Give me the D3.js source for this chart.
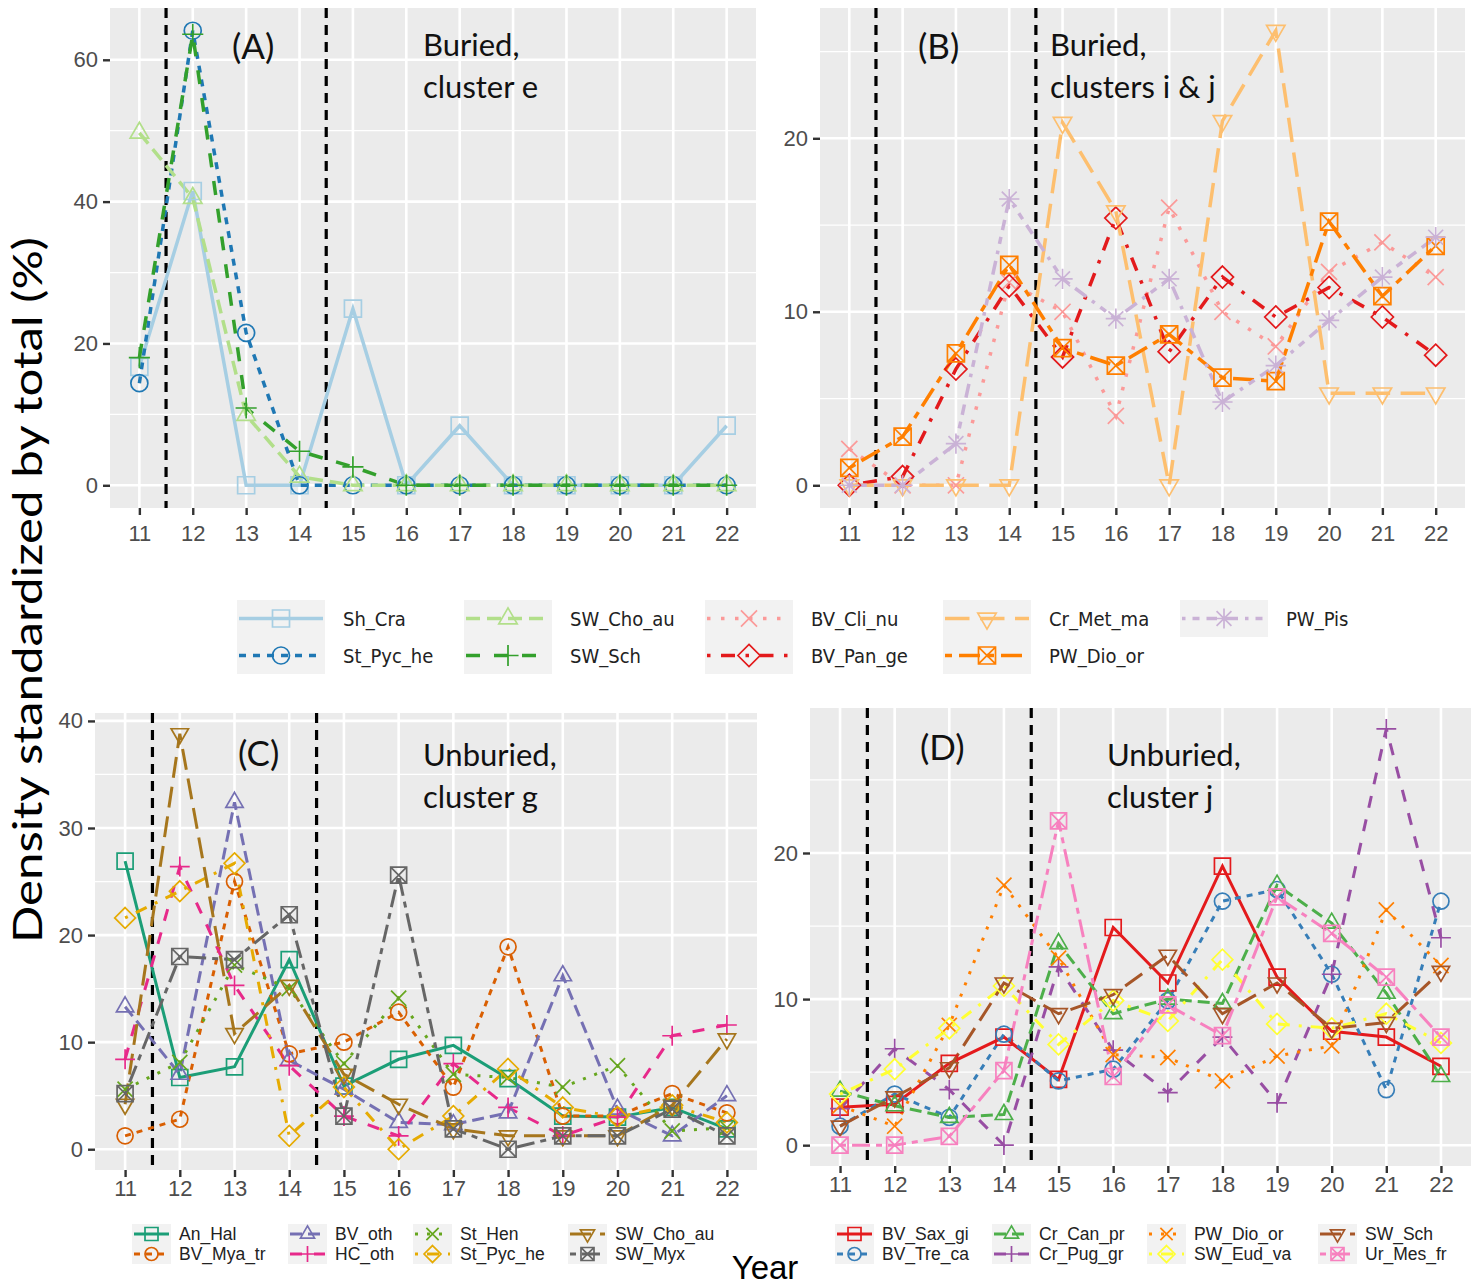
<!DOCTYPE html>
<html>
<head>
<meta charset="utf-8">
<script src="https://cdn.jsdelivr.net/npm/d3@7"></script>
<style>
  body { margin: 0; background: #fff; }
  svg { display: block; }
</style>
</head>
<body>
<svg id="chart" width="1476" height="1287"></svg>
<script>
// ---- data ----
const years = [11, 12, 13, 14, 15, 16, 17, 18, 19, 20, 21, 22];
const breakYears = [11.5, 14.5]; // dashed separators

// buried taxa, panels A and B share one legend
const namesTop = ["Sh_Cra", "St_Pyc_he", "SW_Cho_au", "SW_Sch", "BV_Cli_nu",
                  "BV_Pan_ge", "Cr_Met_ma", "PW_Dio_or", "PW_Pis"];
const valuesA = [
  [16.7, 41.5, 0, 0, 24.9, 0, 8.4, 0, 0, 0, 0, 8.4],      // Sh_Cra
  [14.4, 64.1, 21.5, 0, 0, 0, 0, 0, 0, 0, 0, 0],          // St_Pyc_he
  [49.7, 40.5, 9.9, 1.2, 0, 0, 0, 0, 0, 0, 0, 0],         // SW_Cho_au
  [18.0, 63.6, 10.9, 4.8, 2.6, 0, 0, 0, 0, 0, 0, 0]       // SW_Sch
];
const valuesB = [
  [2.1, 0, 0, 11.7, 10.0, 4.0, 16.0, 10.0, 8.0, 12.3, 14.0, 12.0],   // BV_Cli_nu
  [0, 0.5, 6.7, 11.5, 7.4, 15.4, 7.7, 12.0, 9.7, 11.4, 9.7, 7.5],    // BV_Pan_ge
  [0, 0, 0, 0, 20.9, 15.8, 0, 21.0, 26.2, 5.3, 5.3, 5.3],            // Cr_Met_ma
  [1.0, 2.8, 7.6, 12.7, 7.9, 6.9, 8.7, 6.2, 6.0, 15.2, 10.9, 13.8],  // PW_Dio_or
  [0, 0, 2.4, 16.5, 11.9, 9.6, 11.9, 4.8, 6.9, 9.5, 12.0, 14.3]      // PW_Pis
];

// unburied, cluster g
const namesC = ["An_Hal", "BV_Mya_tr", "BV_oth", "HC_oth", "St_Hen",
                "St_Pyc_he", "SW_Cho_au", "SW_Myx"];
const valuesC = [
  [26.9, 6.7, 7.7, 17.7, 5.9, 8.4, 9.7, 6.6, 3.1, 3.0, 3.9, 1.9],
  [1.25, 2.8, 25.0, 8.9, 10.0, 12.8, 5.8, 18.9, 3.1, 3.1, 5.2, 3.4],
  [13.3, 7.0, 32.4, 8.3, 5.6, 2.5, 2.3, 3.4, 16.2, 3.75, 1.25, 5.0],
  [8.4, 26.4, 15.3, 7.8, 3.1, 1.25, 8.0, 3.9, 1.25, 3.0, 10.6, 11.6],
  [5.6, 8.1, 17.2, 15.0, 8.0, 14.1, 7.0, 6.7, 5.8, 7.8, 1.7, 2.0],
  [21.6, 24.1, 26.7, 1.25, 5.8, 0, 3.1, 7.5, 3.9, 3.0, 4.1, 2.5],
  [4.2, 38.8, 10.8, 15.3, 7.0, 4.2, 1.9, 1.25, 1.25, 1.25, 4.1, 10.3],
  [5.2, 18.0, 17.7, 21.9, 3.1, 25.6, 1.9, 0, 1.25, 1.25, 3.75, 1.25]
];

// unburied, cluster j
const namesD = ["BV_Sax_gi", "BV_Tre_ca", "Cr_Can_pr", "Cr_Pug_gr", "PW_Dio_or",
                "SW_Eud_va", "SW_Sch", "Ur_Mes_fr"];
const valuesD = [
  [2.6, 2.8, 5.6, 7.4, 4.5, 14.9, 11.1, 19.1, 11.5, 7.8, 7.4, 5.4],
  [1.3, 3.5, 1.9, 7.6, 4.4, 5.2, 9.9, 16.7, 17.5, 11.7, 3.8, 16.7],
  [3.7, 2.7, 1.9, 2.1, 13.8, 9.0, 10.0, 9.7, 17.8, 15.2, 10.4, 4.7],
  [2.5, 6.6, 3.8, 0, 12.2, 6.5, 3.6, 7.4, 2.9, 11.7, 28.5, 14.2],
  [2.7, 1.3, 8.2, 17.8, 12.8, 6.2, 6.0, 4.4, 6.1, 6.8, 16.1, 12.3],
  [3.5, 5.2, 8.0, 10.9, 6.9, 9.9, 8.5, 12.7, 8.3, 8.0, 9.0, 7.0],
  [1.3, 3.3, 5.3, 11.1, 9.0, 10.3, 13.0, 9.0, 11.1, 8.0, 8.4, 11.9],
  [0, 0, 0.6, 5.1, 22.2, 4.7, 9.6, 7.5, 17.0, 14.5, 11.5, 7.4]
];

// ---- styles (ggplot defaults + brewer palettes) ----
const pairedColors = ["#a6cee3", "#1f78b4", "#b2df8a", "#33a02c", "#fb9a99",
                      "#e31a1c", "#fdbf6f", "#ff7f00", "#cab2d6"];
const dark2Colors = ["#1b9e77", "#d95f02", "#7570b3", "#e7298a", "#66a61e",
                     "#e6ab02", "#a6761d", "#666666"];
const set1Colors = ["#e41a1c", "#377eb8", "#4daf4a", "#984ea3", "#ff7f00",
                    "#ffff33", "#a65628", "#f781bf"];
const shapeSeq = ["square", "circle", "triangle", "plus", "cross", "diamond",
                  "triangleDown", "squareCross", "asterisk"];
const lineSeq = ["solid", "22", "42", "44", "13", "1343", "73", "2262", "12223242"];

const svg = d3.select("#chart");
const tickFont = "'Liberation Sans', Arial, sans-serif";
const noteFont = "Lato, 'Open Sans', sans-serif";

// dash array from an R style hex linetype, scaled by line width
function dashArray(code, lw) {
  if (code === "solid") return null;
  return code.split("").map(c => parseInt(c, 16) * lw).join(",");
}

// open point glyph built from d3 symbols; h is the half size
function glyph(shape, h) {
  const s = (type, size) => d3.symbol(type, size)();
  const square = () => s(d3.symbolSquare2, (h / 0.4431) ** 2);
  const cross = k => s(d3.symbolX, (k * h / 0.6189) ** 2);
  const plus = k => s(d3.symbolPlus, (k * h / 0.8756) ** 2);
  const tri = () => s(d3.symbolTriangle2, (1.25 * h / 0.6824) ** 2);
  switch (shape) {
    case "square": return { d: square(), rot: 0 };
    case "circle": return { d: s(d3.symbolCircle, Math.PI * h * h), rot: 0 };
    case "triangle": return { d: tri(), rot: 0 };
    case "triangleDown": return { d: tri(), rot: 180 };
    case "plus": return { d: plus(1.25), rot: 0 };
    case "cross": return { d: cross(0.95), rot: 0 };
    case "diamond": return { d: s(d3.symbolDiamond2, (1.3 * h / 0.62625) ** 2), rot: 0 };
    case "squareCross": return { d: square() + cross(1.0), rot: 0 };
    case "asterisk": return { d: plus(1.2) + cross(0.88), rot: 0 };
  }
}

function drawPoint(g, px, py, shape, color, h) {
  const gl = glyph(shape, h);
  g.append("path")
    .attr("transform", "translate(" + px + "," + py + ") rotate(" + gl.rot + ")")
    .attr("d", gl.d)
    .attr("fill", "none")
    .attr("stroke", color)
    .attr("stroke-width", 1.7);
}

const panels = [
  { names: namesTop.slice(0, 4), values: valuesA, colors: pairedColors.slice(0, 4),
    shapes: shapeSeq.slice(0, 4), lines: lineSeq.slice(0, 4),
    box: { left: 110, right: 756, top: 8, bottom: 508 }, major: 20, xSpace: 17,
    tag: "(A)", tagX: 232, tagY: 59, notes: ["Buried,", "cluster e"], noteX: 423, noteY: 56,
    lw: 3.5, h: 8.5 },
  { names: namesTop.slice(4), values: valuesB, colors: pairedColors.slice(4),
    shapes: shapeSeq.slice(4), lines: lineSeq.slice(4),
    box: { left: 820, right: 1465, top: 8, bottom: 508 }, major: 10, xSpace: 17,
    tag: "(B)", tagX: 918, tagY: 59, notes: ["Buried,", "clusters i & j"], noteX: 1050, noteY: 56,
    lw: 3.5, h: 8.5 },
  { names: namesC, values: valuesC, colors: dark2Colors,
    shapes: shapeSeq.slice(0, 8), lines: lineSeq.slice(0, 8),
    box: { left: 95, right: 757, top: 713, bottom: 1170 }, major: 10, xSpace: 10,
    tag: "(C)", tagX: 238, tagY: 766, notes: ["Unburied,", "cluster g"], noteX: 423, noteY: 766,
    lw: 3, h: 8 },
  { names: namesD, values: valuesD, colors: set1Colors,
    shapes: shapeSeq.slice(0, 8), lines: lineSeq.slice(0, 8),
    box: { left: 810, right: 1471, top: 708, bottom: 1166 }, major: 10, xSpace: 10,
    tag: "(D)", tagX: 920, tagY: 760, notes: ["Unburied,", "cluster j"], noteX: 1107, noteY: 766,
    lw: 3, h: 8 }
];

function drawPanel(p) {
  const b = p.box;
  const g = svg.append("g");

  // 5% expansion on both axes, as ggplot does
  const xr = d3.extent(years);
  const xPad = (xr[1] - xr[0]) * 0.05;
  const x = d3.scaleLinear().domain([xr[0] - xPad, xr[1] + xPad]).range([b.left, b.right]);
  const all = p.values.flat();
  const lo = d3.min(all), hi = d3.max(all), yPad = (hi - lo) * 0.05;
  const y = d3.scaleLinear().domain([lo - yPad, hi + yPad]).range([b.bottom, b.top]);
  const yTop = hi + yPad;
  const majors = d3.range(0, yTop, p.major);
  const minors = d3.range(p.major / 2, yTop, p.major);

  g.append("rect")
    .attr("x", b.left).attr("y", b.top)
    .attr("width", b.right - b.left).attr("height", b.bottom - b.top)
    .attr("fill", "#EBEBEB");

  // grid
  g.selectAll(".minor").data(minors).join("line")
    .attr("x1", b.left).attr("x2", b.right)
    .attr("y1", d => y(d)).attr("y2", d => y(d))
    .attr("stroke", "#fff").attr("stroke-width", 1.3);
  g.selectAll(".majorY").data(majors).join("line")
    .attr("x1", b.left).attr("x2", b.right)
    .attr("y1", d => y(d)).attr("y2", d => y(d))
    .attr("stroke", "#fff").attr("stroke-width", 2.6);
  g.selectAll(".majorX").data(years).join("line")
    .attr("x1", d => x(d)).attr("x2", d => x(d))
    .attr("y1", b.top).attr("y2", b.bottom)
    .attr("stroke", "#fff").attr("stroke-width", 2.6);

  // axes
  const xAxis = g.append("g")
    .attr("transform", "translate(0," + b.bottom + ")")
    .call(d3.axisBottom(x).tickValues(years).tickSize(7).tickPadding(p.xSpace - 7));
  const yAxis = g.append("g")
    .attr("transform", "translate(" + b.left + ",0)")
    .call(d3.axisLeft(y).tickValues(majors).tickSize(7).tickPadding(5));
  [xAxis, yAxis].forEach(ax => {
    ax.select(".domain").remove();
    ax.selectAll("line").attr("stroke", "#333").attr("stroke-width", 2.4);
    ax.selectAll("text")
      .attr("fill", "#4D4D4D")
      .attr("font-size", 22)
      .attr("font-family", tickFont);
  });

  // vertical separators
  g.selectAll(".sep").data(breakYears).join("line")
    .attr("x1", d => x(d)).attr("x2", d => x(d))
    .attr("y1", b.top).attr("y2", b.bottom)
    .attr("stroke", "#000").attr("stroke-width", 3.2)
    .attr("stroke-dasharray", "10,7");

  // series lines, then points on top
  const line = d3.line().x(d => x(d.year)).y(d => y(d.value));
  const series = p.names.map((name, i) =>
    years.map((yr, j) => ({ year: yr, value: p.values[i][j] })));
  series.forEach((pts, i) => {
    g.append("path")
      .datum(pts)
      .attr("fill", "none")
      .attr("stroke", p.colors[i])
      .attr("stroke-width", p.lw)
      .attr("stroke-dasharray", dashArray(p.lines[i], p.lw))
      .attr("d", line);
  });
  series.forEach((pts, i) => {
    pts.forEach(d => drawPoint(g, x(d.year), y(d.value), p.shapes[i], p.colors[i], p.h));
  });

  // labels inside the panel
  g.append("text")
    .attr("x", p.tagX).attr("y", p.tagY)
    .attr("font-family", noteFont).attr("font-size", 35).attr("fill", "#111")
    .text(p.tag);
  p.notes.forEach((t, k) => {
    g.append("text")
      .attr("x", p.noteX).attr("y", p.noteY + k * 42)
      .attr("font-family", noteFont).attr("font-size", 31).attr("fill", "#111")
      .text(t);
  });
}

panels.forEach(drawPanel);

// ---- legends ----
const legends = [
  { names: namesTop, colors: pairedColors, colX: [237, 464, 705, 943, 1180], top: 600,
    keyW: 88, keyH: 37, labelDx: 106, fontSize: 20,
    font: "'Liberation Sans Narrow', 'DejaVu Sans Condensed', sans-serif", lw: 3.5, h: 8.5 },
  { names: namesC, colors: dark2Colors, colX: [132, 288, 413, 568], top: 1224,
    keyW: 39, keyH: 20, labelDx: 47, fontSize: 17.5, font: tickFont, lw: 3, h: 6.5 },
  { names: namesD, colors: set1Colors, colX: [835, 992, 1147, 1318], top: 1224,
    keyW: 39, keyH: 20, labelDx: 47, fontSize: 17.5, font: tickFont, lw: 3, h: 6.5 }
];

function drawLegend(L) {
  const g = svg.append("g");
  L.names.forEach((name, i) => {
    const kx = L.colX[Math.floor(i / 2)];
    const ky = L.top + (i % 2) * L.keyH;
    const cy = ky + L.keyH / 2;
    g.append("rect")
      .attr("x", kx).attr("y", ky).attr("width", L.keyW).attr("height", L.keyH)
      .attr("fill", "#F2F2F2");
    g.append("line")
      .attr("x1", kx + 2).attr("x2", kx + L.keyW - 2)
      .attr("y1", cy).attr("y2", cy)
      .attr("stroke", L.colors[i]).attr("stroke-width", L.lw)
      .attr("stroke-dasharray", dashArray(lineSeq[i], L.lw));
    drawPoint(g, kx + L.keyW / 2, cy, shapeSeq[i], L.colors[i], L.h);
    g.append("text")
      .attr("x", kx + L.labelDx).attr("y", cy).attr("dy", "0.35em")
      .attr("font-family", L.font).attr("font-size", L.fontSize).attr("fill", "#222")
      .text(name);
  });
}

legends.forEach(drawLegend);

// ---- axis titles ----
svg.append("text")
  .attr("transform", "translate(42,590) rotate(-90)")
  .attr("text-anchor", "middle")
  .attr("font-family", noteFont)
  .attr("font-size", 40)
  .attr("textLength", 706)
  .attr("lengthAdjust", "spacingAndGlyphs")
  .attr("fill", "#000")
  .text("Density standardized by total (%)");

svg.append("text")
  .attr("x", 765).attr("y", 1279)
  .attr("text-anchor", "middle")
  .attr("font-family", tickFont)
  .attr("font-size", 33)
  .attr("fill", "#000")
  .text("Year");
</script>
</body>
</html>
